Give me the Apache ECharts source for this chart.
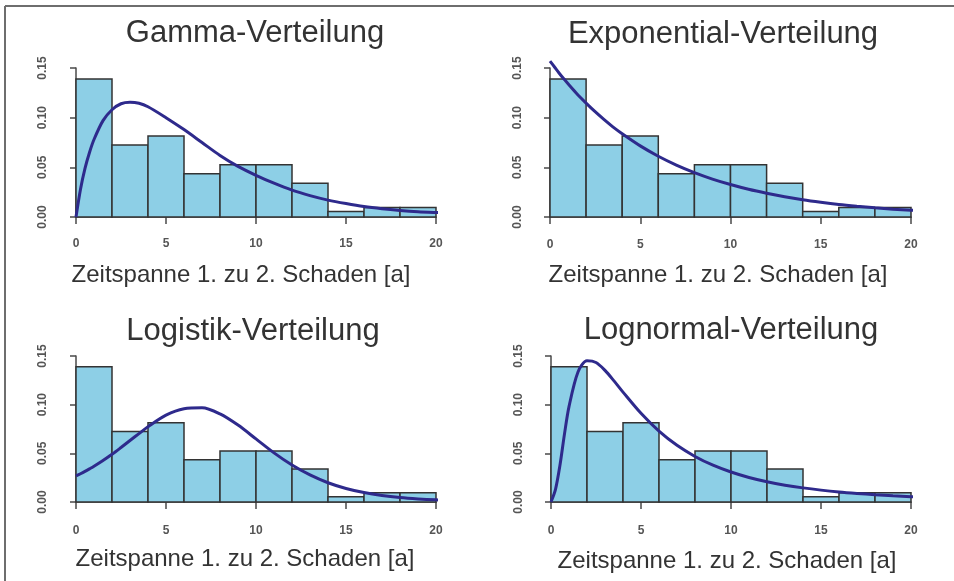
<!DOCTYPE html>
<html>
<head>
<meta charset="utf-8">
<script src="https://cdn.jsdelivr.net/npm/echarts@6/dist/echarts.min.js"></script>
<style>
html,body{margin:0;padding:0;background:#ffffff;}
#chart{width:954px;height:581px;}
</style>
</head>
<body>
<div id="chart"></div>
<script>
// ---------------- data ----------------
const titles = ['Gamma-Verteilung', 'Exponential-Verteilung', 'Logistik-Verteilung', 'Lognormal-Verteilung'];
const xAxisTitle = 'Zeitspanne 1. zu 2. Schaden [a]';

// histogram (density), bins of the time span in years
const binStart = [0, 2, 4, 6, 8, 10, 12, 14, 16, 18];
const binEnd   = [2, 4, 6, 8, 10, 12, 14, 16, 18, 20];
const density  = [0.139, 0.0725, 0.0815, 0.0435, 0.0525, 0.0525, 0.034, 0.0055, 0.0095, 0.0095];

// fitted density curves
const curveX    = [0, 0.25, 0.5, 0.75, 1, 1.5, 2, 2.5, 3, 3.5, 4, 5, 6, 7, 8, 9, 10, 11, 12, 13, 14, 15, 16, 17, 18, 19, 20, 20.8];
const gammaY    = [0, 0.028, 0.049, 0.065, 0.078, 0.097, 0.108, 0.114, 0.1155, 0.1145, 0.111, 0.100, 0.088, 0.075, 0.062, 0.051, 0.042, 0.034, 0.027, 0.0215, 0.017, 0.0135, 0.0105, 0.0083, 0.0066, 0.0053, 0.0045, 0.004];
const expY      = [0.157, 0.151, 0.145, 0.1394, 0.1342, 0.1239, 0.1147, 0.106, 0.098, 0.0905, 0.0838, 0.0716, 0.0612, 0.0523, 0.0447, 0.0382, 0.0327, 0.0279, 0.0239, 0.0204, 0.0174, 0.0149, 0.0127, 0.0109, 0.0093, 0.0079, 0.0068, 0.006];
const logisticY = [0.0268, 0.029, 0.0314, 0.034, 0.0367, 0.0426, 0.049, 0.056, 0.0632, 0.0703, 0.0773, 0.0892, 0.0958, 0.0968, 0.0905, 0.079, 0.0648, 0.0505, 0.038, 0.0278, 0.0198, 0.0139, 0.0097, 0.0067, 0.0046, 0.0032, 0.0022, 0.0017];
const lognormY  = [0, 0.013, 0.038, 0.070, 0.098, 0.1336, 0.145, 0.1433, 0.1352, 0.1244, 0.1129, 0.0911, 0.0728, 0.0582, 0.0468, 0.0378, 0.0308, 0.0252, 0.0208, 0.0173, 0.0145, 0.0122, 0.0103, 0.0088, 0.0075, 0.0064, 0.0055, 0.0049];
const curves = [gammaY, expY, logisticY, lognormY];

const xTickMin = 0, xTickMax = 20, xTickStep = 5;
const yTickMin = 0, yTickMax = 0.15, yTickStep = 0.05;

// ---------------- layout & style ----------------
const panels = [
  {left: 76,  top: 68,  width: 360, height: 149, xOff: 6, yOff: 14, tx: 255, ty: 33, lx: 241, ly: 275},
  {left: 550, top: 68,  width: 361, height: 149, xOff: 7, yOff: 13, tx: 723, ty: 34, lx: 718, ly: 275},
  {left: 76,  top: 356, width: 360, height: 146, xOff: 8, yOff: 14, tx: 253, ty: 331, lx: 245, ly: 559},
  {left: 551, top: 356, width: 360, height: 146, xOff: 8, yOff: 13, tx: 731, ty: 330, lx: 727, ly: 561}
];
const FONT = '"Liberation Sans", Arial, Helvetica, sans-serif';
const barFill = '#8dcfe6';
const barStroke = '#333333';
const curveColor = '#2e2a8c';
const axisColor = '#4a4a4a';

const grid = [], xAxis = [], yAxis = [], series = [], graphic = [];

panels.forEach((p, i) => {
  grid.push({left: p.left, top: p.top, width: p.width, height: p.height, containLabel: false});
  xAxis.push({
    type: 'value', gridIndex: i, min: xTickMin, max: xTickMax, interval: xTickStep,
    offset: p.xOff,
    axisLine: {show: true, lineStyle: {color: axisColor, width: 1.5}},
    axisTick: {show: true, length: 7, lineStyle: {color: axisColor, width: 1.5}},
    axisLabel: {show: true, margin: 15, color: '#555', fontSize: 12, fontWeight: 'bold', fontFamily: FONT},
    splitLine: {show: false}
  });
  yAxis.push({
    type: 'value', gridIndex: i, min: yTickMin, max: yTickMax, interval: yTickStep,
    offset: p.yOff,
    axisLine: {show: true, lineStyle: {color: axisColor, width: 1.5}},
    axisTick: {show: true, length: 6, lineStyle: {color: axisColor, width: 1.5}},
    axisLabel: {show: true, rotate: 90, margin: 13, color: '#555', fontSize: 12, fontWeight: 'bold', fontFamily: FONT,
                formatter: v => v.toFixed(2)},
    splitLine: {show: false}
  });
  series.push({
    type: 'custom', xAxisIndex: i, yAxisIndex: i,
    data: binStart.map((s, k) => [s, binEnd[k], density[k]]),
    encode: {x: [0, 1], y: 2},
    renderItem: function (params, api) {
      const a = api.coord([api.value(0), api.value(2)]);
      const b = api.coord([api.value(1), 0]);
      return {type: 'rect', shape: {x: a[0], y: a[1], width: b[0] - a[0], height: b[1] - a[1]},
              style: {fill: barFill, stroke: barStroke, lineWidth: 1.5}};
    },
    z: 2
  });
  series.push({
    type: 'line', xAxisIndex: i, yAxisIndex: i,
    data: curveX.map((x, k) => [x, curves[i][k]]),
    smooth: 0.3, showSymbol: false, clip: false,
    lineStyle: {color: curveColor, width: 3},
    z: 5
  });
  graphic.push({type: 'text', z: 10, style: {text: titles[i], x: p.tx, y: p.ty, align: 'center', verticalAlign: 'middle',
                 font: '31px ' + FONT, fill: '#333333'}});
  graphic.push({type: 'text', z: 10, style: {text: xAxisTitle, x: p.lx, y: p.ly, align: 'center', verticalAlign: 'middle',
                 font: '24px ' + FONT, fill: '#333333'}});
});

// frame lines (top and left)
graphic.push({type: 'line', z: 10, shape: {x1: 5, y1: 6, x2: 954, y2: 6}, style: {stroke: '#6e6e6e', lineWidth: 2}});
graphic.push({type: 'line', z: 10, shape: {x1: 5, y1: 6, x2: 5, y2: 581}, style: {stroke: '#6e6e6e', lineWidth: 2}});

const chart = echarts.init(document.getElementById('chart'), null, {renderer: 'canvas'});
chart.setOption({
  animation: false,
  backgroundColor: '#ffffff',
  grid, xAxis, yAxis, series, graphic
});
</script>
</body>
</html>
